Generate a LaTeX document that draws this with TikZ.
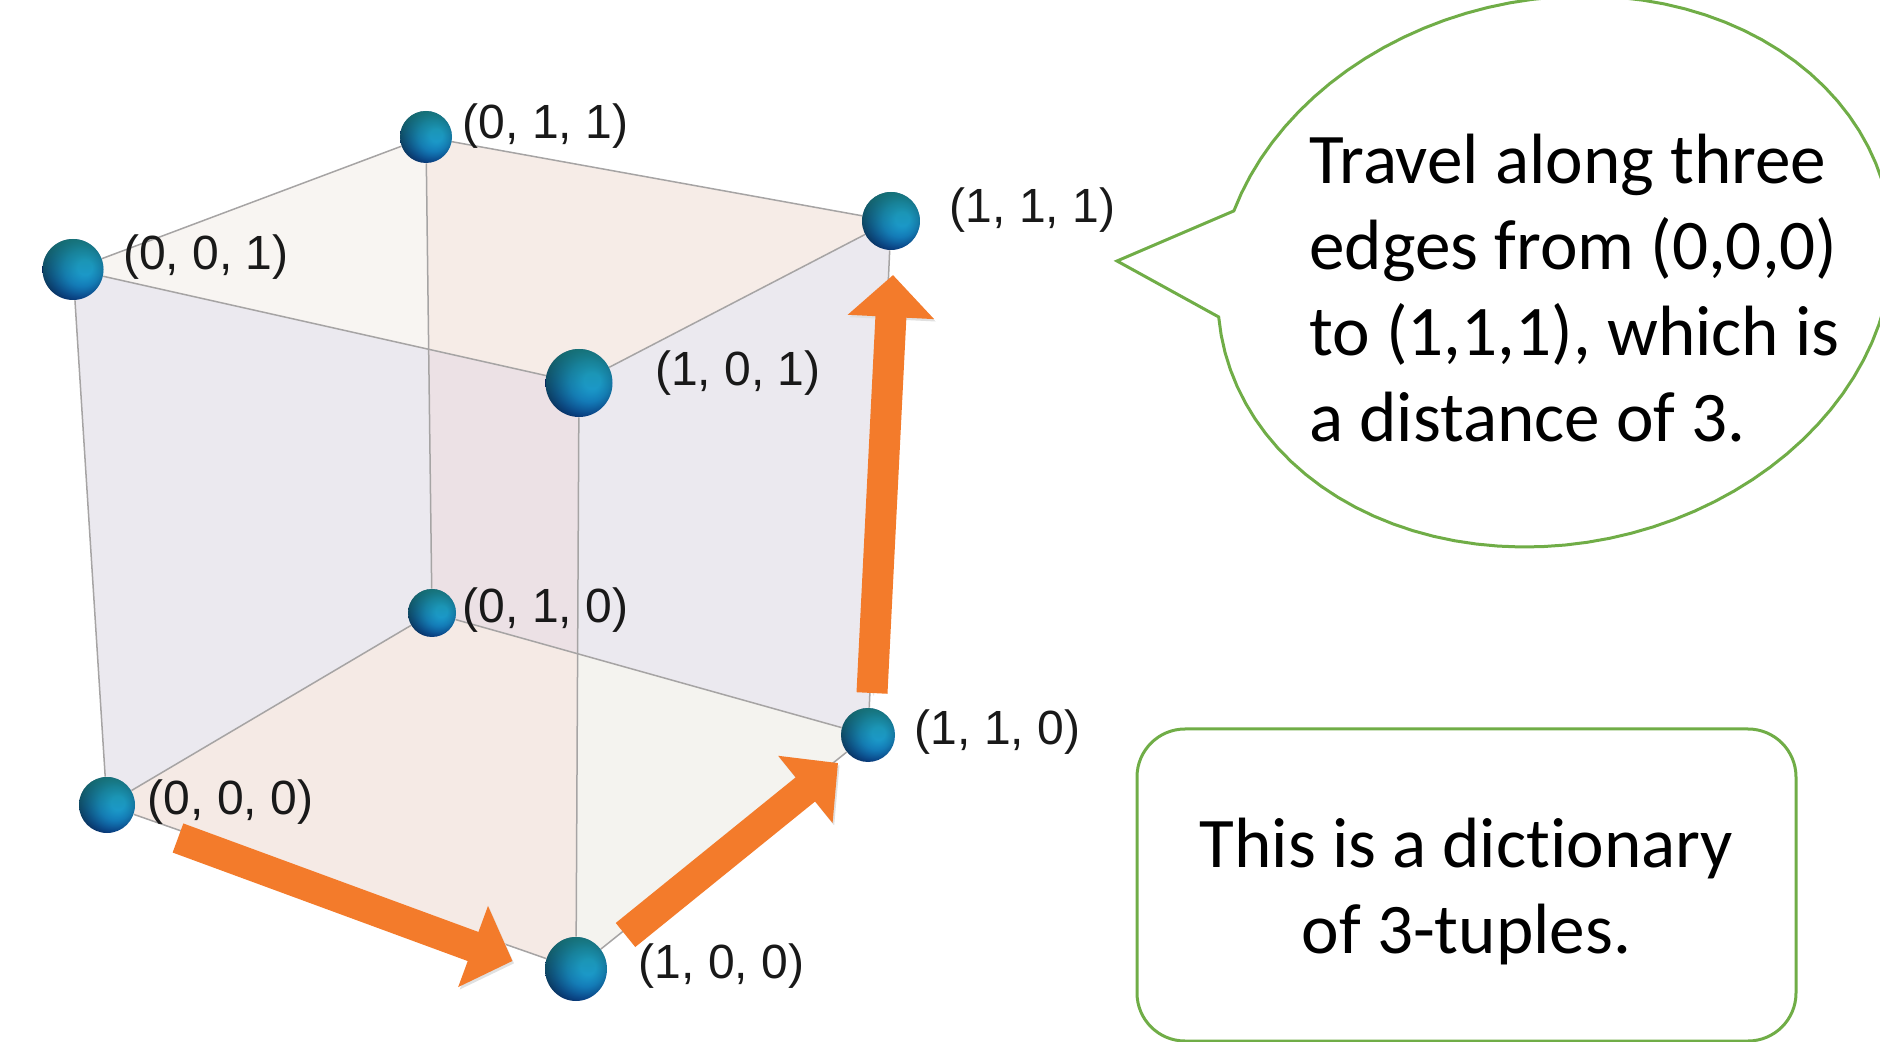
\documentclass[tikz,border=0pt]{standalone}
\usepackage{fontspec}
\setmainfont{Liberation Sans}
\newfontfamily\notefont[Ligatures=NoCommon]{Carlito}
\usetikzlibrary{shapes.geometric, arrows.meta, positioning, backgrounds, fadings}
\definecolor{notestr}{HTML}{70AD47}
\definecolor{edgestr}{HTML}{A6A4A4}
\definecolor{pathfill}{HTML}{F37B2B}
\definecolor{ballhi}{HTML}{1A9DE8}
\definecolor{ballmid}{HTML}{1278C4}
\definecolor{balllow}{HTML}{0A4488}
\definecolor{ballrim}{HTML}{061A44}
\definecolor{ballcap}{HTML}{1E8C72}
\definecolor{facetl}{HTML}{F8F5F2}
\definecolor{facetr}{HTML}{F6ECE7}
\definecolor{faceside}{HTML}{EBE9EF}
\definecolor{facemid}{HTML}{ECE1E5}
\definecolor{facebl}{HTML}{F5EAE5}
\definecolor{facebr}{HTML}{F4F3EF}
\pgfdeclareradialshading{ballshade}{\pgfpoint{11bp}{2bp}}{%
  color(0bp)=(ballhi); color(6bp)=(ballhi); color(15bp)=(ballmid); color(24bp)=(balllow); color(33bp)=(ballrim); color(50bp)=(ballrim)}
\tikzfading[name=capfade, top color=transparent!35, middle color=transparent!100, bottom color=transparent!100]
\tikzset{
  ball/.style     ={ellipse, inner sep=0pt, shading=ballshade,
                    path picture={\fill[ballcap, path fading=capfade]
                      (path picture bounding box.south west) rectangle (path picture bounding box.north east);}},
  tuple/.style    ={inner sep=0pt, font=\fontsize{24}{28}\selectfont, text=black!90},
  edge/.style     ={draw=edgestr, line width=0.75pt},
  hop/.style      ={-{Triangle[length=21pt, width=42pt]}, draw=pathfill, line width=15.5pt,
                    preaction={draw=black!12, transform canvas={shift={(0.8pt,-1.2pt)}}}},
  notetext/.style ={inner sep=0pt, align=left, font=\notefont\fontsize{35.6}{43}\selectfont},
  notebox/.style  ={rectangle, rounded corners=24pt, draw=notestr, line width=1.5pt,
                    minimum width=329.5pt, minimum height=156pt, align=center,
                    font=\notefont\fontsize{35.6}{43}\selectfont},
  noteline/.style ={draw=notestr, line width=1.5pt, line join=miter},
}
\begin{document}
\begin{tikzpicture}[x=0.5pt, y=-0.5pt]
    \useasboundingbox (0,0) rectangle (1880,1042);

    % corners of the cube
    \node[ball, minimum width=30.5pt, minimum height=30.5pt] (n001) at (73,269.5) {};
    \node[ball, minimum width=26pt, minimum height=26pt] (n011) at (426,137) {};
    \node[ball, minimum width=29pt, minimum height=29pt] (n111) at (891,221) {};
    \node[ball, minimum width=33.5pt, minimum height=34pt] (n101) at (579,383) {};
    \node[ball, minimum width=24pt, minimum height=24pt] (n010) at (432,613) {};
    \node[ball, minimum width=27pt, minimum height=27pt] (n110) at (868,735) {};
    \node[ball, minimum width=28pt, minimum height=28pt] (n000) at (107,805) {};
    \node[ball, minimum width=31pt, minimum height=32pt] (n100) at (576,969) {};

    \coordinate (xtop) at (intersection of n001--n101 and n011--n010);
    \coordinate (xfloor) at (intersection of n010--n110 and n101--n100);

    \begin{scope}[on background layer]
      \fill[facetl] (n001.center) -- (n011.center) -- (xtop) -- cycle;
      \fill[facetr] (n011.center) -- (n111.center) -- (n101.center) -- (xtop) -- cycle;
      \fill[faceside] (n001.center) -- (xtop) -- (n010.center) -- (n000.center) -- cycle;
      \fill[facemid] (xtop) -- (n101.center) -- (xfloor) -- (n010.center) -- cycle;
      \fill[faceside] (n101.center) -- (n111.center) -- (n110.center) -- (xfloor) -- cycle;
      \fill[facebl] (n000.center) -- (n010.center) -- (xfloor) -- (n100.center) -- cycle;
      \fill[facebr] (xfloor) -- (n110.center) -- (n100.center) -- cycle;

      \draw[edge] (n001) -- (n011);
      \draw[edge] (n011) -- (n111);
      \draw[edge] (n001) -- (n101);
      \draw[edge] (n101) -- (n111);
      \draw[edge] (n001) -- (n000);
      \draw[edge] (n011) -- (n010);
      \draw[edge] (n101) -- (n100);
      \draw[edge] (n111) -- (n110);
      \draw[edge] (n000) -- (n010);
      \draw[edge] (n010) -- (n110);
      \draw[edge] (n000) -- (n100);
      \draw[edge] (n100) -- (n110);
    \end{scope}

    % tuple labels
    \node[tuple, right=5pt of n011, yshift=5.7pt] (t011) {(0, 1, 1)};
    \node[tuple, right=9.5pt of n001, yshift=6.2pt] (t001) {(0, 0, 1)};
    \node[tuple, right=14.5pt of n111, yshift=5.7pt] (t111) {(1, 1, 1)};
    \node[tuple, right=21pt of n101, yshift=5.2pt] (t101) {(1, 0, 1)};
    \node[tuple, right=3pt of n010, yshift=1.7pt] (t010) {(0, 1, 0)};
    \node[tuple, right=9.5pt of n110, yshift=1.7pt] (t110) {(1, 1, 0)};
    \node[tuple, right=6pt of n000, yshift=1.3pt] (t000) {(0, 0, 0)};
    \node[tuple, right=15.5pt of n100, yshift=1.3pt] (t100) {(1, 0, 0)};

    % the three hops
    \coordinate (hop1a) at (178,838);
    \coordinate (hop1b) at (512.5,961);
    \coordinate (hop2a) at (625.5,935);
    \coordinate (hop2b) at (838,763);
    \coordinate (hop3a) at (872,693);
    \coordinate (hop3b) at (893,275);
    \draw[hop] (hop1a) -- (hop1b);
    \draw[hop] (hop2a) -- (hop2b);
    \draw[hop] (hop3a) -- (hop3b);

    % speech bubble
    \draw[noteline] plot[domain=170.5:-167.3, samples=90]
      ({1555+336*cos(\x)-30*sin(\x)},{271.5+275.5*sin(\x)}) -- (1117,261) -- cycle;
    \node[notetext, anchor=west] (travel) at (1309,288) {Travel along three\\edges from (0,0,0)\\to (1,1,1), which is\\a distance of 3.};

    \node[notebox] (dict) at (1466.5,885) {\rule{0pt}{31.4pt}This is a dictionary\\of 3-tuples.};
\end{tikzpicture}
\end{document}
